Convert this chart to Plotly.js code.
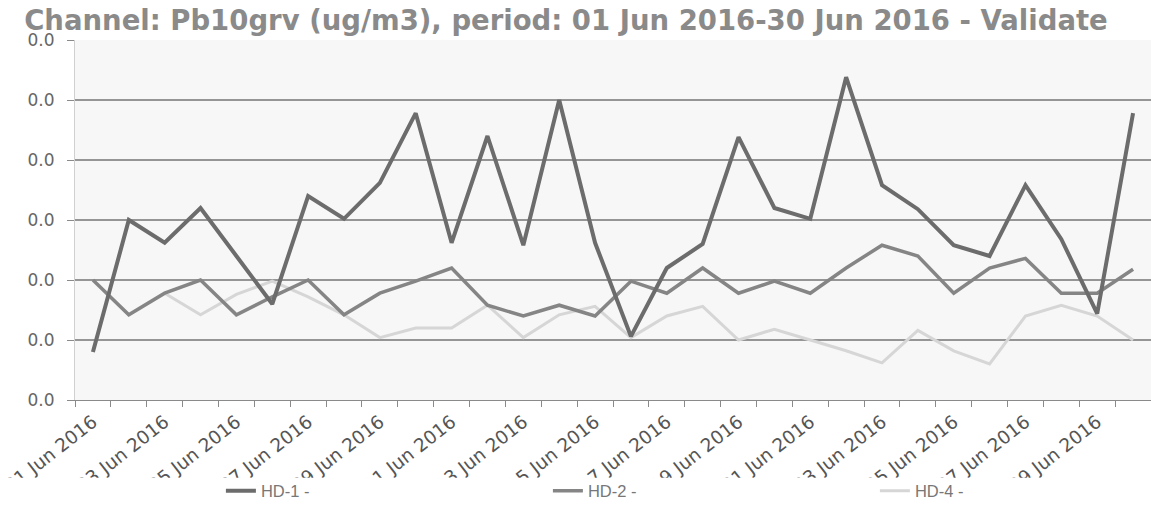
<!DOCTYPE html>
<html>
<head>
<meta charset="utf-8">
<script src="https://cdn.plot.ly/plotly-3.0.1.min.js"></script>
<style>
html,body{margin:0;padding:0;background:#fff;overflow:hidden;}
#chart{width:1151px;height:510px;}
</style>
</head>
<body>
<div id="chart"></div>
<script>
var days = ['01 Jun 2016','02 Jun 2016','03 Jun 2016','04 Jun 2016','05 Jun 2016','06 Jun 2016','07 Jun 2016','08 Jun 2016','09 Jun 2016','10 Jun 2016',
            '11 Jun 2016','12 Jun 2016','13 Jun 2016','14 Jun 2016','15 Jun 2016','16 Jun 2016','17 Jun 2016','18 Jun 2016','19 Jun 2016','20 Jun 2016',
            '21 Jun 2016','22 Jun 2016','23 Jun 2016','24 Jun 2016','25 Jun 2016','26 Jun 2016','27 Jun 2016','28 Jun 2016','29 Jun 2016','30 Jun 2016'];

var hd1 = [0.0040,0.0150,0.0131,0.0160,0.0120,0.0080,0.0170,0.0151,0.0181,0.0239,
           0.0131,0.0220,0.0129,0.0250,0.0131,0.0053,0.0110,0.0130,0.0219,0.0160,
           0.0151,0.0269,0.0179,0.0159,0.0129,0.0120,0.0179,0.0134,0.0072,0.0239];

var hd2 = [0.0100,0.0071,0.0089,0.0100,0.0071,0.0086,0.0100,0.0071,0.0089,0.0099,
           0.0110,0.0079,0.0070,0.0079,0.0070,0.0099,0.0089,0.0110,0.0089,0.0099,
           0.0089,0.0110,0.0129,0.0120,0.0089,0.0110,0.0118,0.0089,0.0089,0.0109];

var hd4 = [null,null,0.0089,0.0071,0.0088,0.0099,0.0086,0.0071,0.0052,0.0060,
           0.0060,0.0079,0.0052,0.0071,0.0078,0.0052,0.0070,0.0078,0.0050,0.0059,
           0.0050,0.0041,0.0031,0.0058,0.0041,0.0030,0.0070,0.0079,0.0070,0.0050];

var seriesNames = ['HD-1 -','HD-2 -','HD-4 -'];
var yTicks = [0,0.005,0.010,0.015,0.020,0.025,0.030];

var tickText = days.map(function(d,i){ return i % 2 === 0 ? d : ''; });

var traces = [
  {x: days, y: hd4, name: seriesNames[2], type: 'scatter', mode: 'lines',
   line: {color: '#d6d6d6', width: 3}, connectgaps: false},
  {x: days, y: hd2, name: seriesNames[1], type: 'scatter', mode: 'lines',
   line: {color: '#858585', width: 3.5}},
  {x: days, y: hd1, name: seriesNames[0], type: 'scatter', mode: 'lines',
   line: {color: '#6c6c6c', width: 4}}
];

var layout = {
  width: 1151, height: 510,
  paper_bgcolor: '#ffffff',
  plot_bgcolor: '#f7f7f7',
  margin: {l: 75, r: 0, t: 40, b: 110, autoexpand: false},
  title: {
    text: 'Channel: Pb10grv (ug/m3), period: 01 Jun 2016-30 Jun 2016 - Validate',
    font: {family: 'DejaVu Sans', size: 27.5, color: '#8a8a8a', weight: 'bold'},
    x: 0.021, xanchor: 'left', xref: 'container',
    y: 0.96, yanchor: 'middle', yref: 'container'
  },
  xaxis: {
    type: 'category',
    range: [-0.5, 29.5],
    tickmode: 'array', tickvals: days, ticktext: tickText,
    tickson: 'boundaries',
    ticks: 'outside', ticklen: 6, tickcolor: '#8a8a8a', tickwidth: 1,
    tickangle: -38,
    ticklabelstandoff: 3,
    tickfont: {family: 'DejaVu Sans', size: 18.5, color: '#555'},
    showgrid: false,
    showline: true, linecolor: '#8a8a8a', linewidth: 1,
    zeroline: false, automargin: false
  },
  yaxis: {
    range: [0, 0.03],
    tickmode: 'array', tickvals: yTicks,
    tickformat: '.1f',
    ticks: 'outside', ticklen: 7, tickcolor: '#8a8a8a',
    ticklabelstandoff: 9,
    tickfont: {family: 'DejaVu Sans', size: 17, color: '#666'},
    showgrid: true, gridcolor: '#959595', gridwidth: 1.2,
    showline: true, linecolor: '#d0d0d0', linewidth: 1,
    zeroline: false, automargin: false
  },
  showlegend: true,
  legend: {
    orientation: 'h', traceorder: 'reversed',
    x: 0.1356, xanchor: 'left',
    y: -0.253, yanchor: 'middle',
    entrywidth: 282, entrywidthmode: 'pixels',
    font: {family: 'Liberation Sans', size: 16.5, color: '#777'},
    bgcolor: 'rgba(0,0,0,0)'
  },
  shapes: [
    {type: 'rect', xref: 'paper', yref: 'paper', layer: 'above',
     x0: -0.08, x1: 1.0, y0: -0.216, y1: -0.275,
     fillcolor: '#ffffff', line: {width: 0}}
  ]
};

Plotly.newPlot('chart', traces, layout, {displayModeBar: false, staticPlot: true});
</script>
</body>
</html>
